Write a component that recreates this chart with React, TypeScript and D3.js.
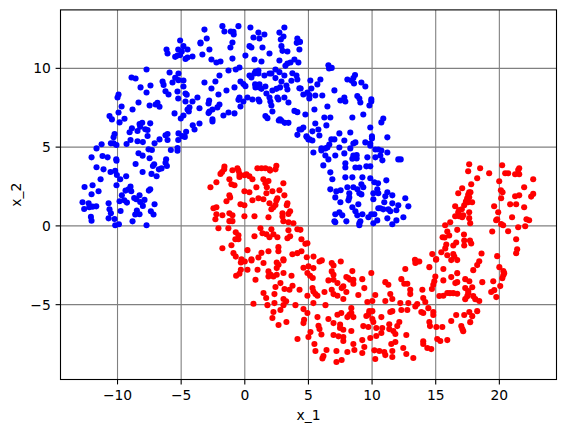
import React from "react";
import * as d3 from "d3";

const xTicks = [-10, -5, 0, 5, 10, 15, 20];
const yTicks = [-5, 0, 5, 10];
const xLabel = "x_1";
const yLabel = "x_2";
const xDomain = [-14.48, 24.49];
const yDomain = [-9.75, 13.71];

const classOne: number[][] = [
[-5.08,11.77],[-6.15,11.2],[-6.07,10.94],[-5.23,11.2],[-5.47,10.73],[-5.29,10.81],[-5.08,10.84],[-7.72,9.93],[-5.91,9.74],[-8.9,9.42],[-8.58,9.36],[-5.47,9.4],[-5.21,9.67],[-5.21,9.25],[-6.46,9.17],[-6.38,8.95],[-5.68,9.1],[-7.41,8.91],[-8.19,8.79],[-7.72,8.47],[-6.23,8.55],[-5.99,8.34],[-5.29,8.53],[-9.92,8.34],[-10,8.15],[-5.23,8.09],[-8.35,7.83],[-9.68,7.58],[-8.82,7.39],[-7.48,7.64],[-6.86,7.81],[-7.01,7.71],[-6.7,7.56],[-9.92,7.2],[-5.52,7.14],[-10.63,6.97],[-10.44,6.76],[-9.45,6.8],
[-9.84,6.57],[-8.87,6.19],[-8.22,6.3],[-8.06,6.55],[-7.43,6.51],[-8.27,6.47],[-8.43,6.02],[-9.05,5.94],[-7.82,6.13],[-7.64,6.09],[-7.64,5.71],[-10.23,5.83],[-10.31,5.62],[-6.07,5.83],[-6.23,5.75],[-5.21,5.87],[-6.7,5.49],[-6.07,5.45],[-5.23,5.45],[-8.98,5.45],[-8.43,5.37],[-8.01,5.32],[-7.09,5.24],[-9.29,5.2],[-10.52,5.24],[-10.31,5.24],[-10.08,5.13],[-11.25,5.18],[-11.65,4.92],[-7.56,4.86],[-7.3,4.82],[-5.81,4.82],[-5.29,4.77],[-5.29,4.94],[-8.35,4.61],[-8.03,4.46],[-12.04,4.35],[-11.18,4.44],[-10.78,4.35],[-10.1,4.23],[-10.08,4.14],[-7.48,4.29],[-8.58,3.93],[-6.18,4.23],[-6.23,4.01],[-7.12,3.91],[-7.22,3.8],[-11.65,3.72],[-11.1,3.59],[-6.12,3.8],[-6.54,3.65],[-6.75,3.59],[-10.55,3.42],[-10.18,3.49],[-8.03,3.42],[-7.33,3.3],[-6.93,3.15],[-10.05,3.23],[-9.32,3.15],[-9.79,2.96],[-11.33,2.96],[-10.08,2.58],[-12.59,2.47],[-11.96,2.58],[-8.98,2.49],[-9.13,2.32],[-9.37,2.24],[-8.92,2.2],[-11.49,2.2],[-12.04,2.01],[-9.66,1.94],[-7.43,2.32],[-7.54,2.24],[-8.27,1.94],[-8.69,1.77],[-8.53,1.69],[-7.88,1.65],[-12.75,1.5],[-10.7,1.43],[-9.84,1.56],[-9.47,1.62],[-9.26,1.48],[-8.22,1.52],[-12.27,1.43],[-12.22,1.18],[-11.96,1.22],[-11.67,1.24],[-12.62,1.07],[-10.63,1.05],[-8.01,1.27],[-7.09,1.37],[-9.76,0.95],[-10.52,0.8],[-8.48,0.97],[-8.61,0.72],[-8.27,0.74],[-7.38,0.93],[-7.17,0.72],[-12.09,0.57],[-12.04,0.33],[-10.7,0.48],[-10.23,0.44],[-8.82,0.29],[-10.18,0.04],[-9.89,0.1],[-7.72,0.04],
[-3.17,12.46],[-1.76,12.68],[-1.6,12.34],[-0.5,12.68],[0.44,12.59],[3.11,12.59],[-1.1,12.34],[-0.89,12.32],[-0.87,12.15],[1.07,12.27],[1.54,12.15],[2.72,12.27],[0.68,11.96],[1.15,11.89],[3.04,12.02],[2.83,11.83],[-2.99,11.89],[4.13,11.89],[4.08,11.62],[4.34,11.68],[-3.48,11.64],[-3.48,11.58],[-0.97,11.64],[-1.13,11.32],[0.37,11.41],[0.52,11.32],[1.39,11.32],[2.88,11.41],[2.96,11.11],[3.35,11.07],[-4.82,11.41],[-4.5,11.2],[-2.78,11.2],[-4.95,11.07],[-3.33,10.88],[1.94,10.94],[0.05,10.81],[4.29,11.2],[-4.11,10.75],[-4.5,10.69],[-4.66,10.6],[-0.97,10.62],[0.76,10.56],[-2.62,10.56],[-2.23,10.37],[-1.91,10.43],[1.31,10.43],[2.72,10.5],[3.9,10.56],[4.21,10.37],[3.59,10.37],[3.35,10.31],[3.19,10.16],[-0.42,10.05],[-0.71,9.93],[-1.28,9.86],[1.07,9.86],[0.84,9.8],[2.41,9.93],[2.72,9.76],[2.09,9.67],[4.06,9.55],[3.74,9.69],[-1.99,9.55],[1.54,9.55],[1.94,9.67],[0.37,9.55],[0.52,9.42],[1.07,9.67],[0.76,9.67],[2.41,9.38],[3.11,9.55],[-3.17,9.1],[-2.31,9.17],[-0.34,9.17],[-0.11,9],[0.05,8.87],[-4.82,9.23],[-4.82,8.85],[0.81,8.98],[0.84,8.79],[1.15,8.98],[1.15,8.79],[1.31,8.7],[1.62,8.85],[2.88,9.17],[3.66,9.21],[4.13,9.29],[3.27,8.91],[3.35,8.66],[4.29,8.74],[-2.62,8.72],[-0.81,8.79],[-1.44,8.59],[2.77,8.79],[2.49,8.7],[2.17,8.59],[1.7,8.4],[-2.07,8.34],[-4.66,8.4],[-4.56,8.32],[-3.72,8.15],[-0.42,8.15],[0.21,8.15],[0.6,8.02],[1.07,8.02],[1.15,7.9],[-0.5,8],[-0.11,7.9],[1.94,8.15],[2.01,7.9],[2.56,8.15],[3.11,8.15],[2.64,8.02],[3.43,7.83],[-4.66,7.9],[-4.11,7.9],[-2.8,7.96],[-2.85,7.77],[-1.99,7.71],[-2.15,7.52],[-0.34,7.58],[-3.56,7.47],[-4.35,7.52],[-4.5,7.39],[-4.4,7.26],[2.09,7.64],[2.17,7.26],[3.9,7.3],[4.13,7.22],[-2.54,7.39],[-2.78,7.26],[-2.85,7.16],[-1.28,7.2],[-0.81,7.14],[-1.68,7.01],[1.62,6.97],[1.78,6.84],[-2.54,6.76],[2.77,6.76],[-4.82,7.01],[-5.03,6.82],
[-4.09,6.39],[-3.56,6.5],[-3.95,6.12],[-2.54,6.63],[-4.61,5.97],[-4.92,5.7],[-4.71,5.65],[2.67,6.69],[2.88,6.67],[3.14,6.54],[3.43,6.54],[4.29,6.12],[4.13,5.78],[4.87,5.65],[5.08,5.49],
[6.57,10.2],[6.62,9.99],[6.83,10.03],[8.66,9.57],[8.53,9.38],[8.06,9.29],[8.4,9.21],[8.58,9.04],[9.16,9.1],[9.47,8.85],[5.94,9.29],[5.15,9.23],[5.7,8.98],[5.23,8.72],[4.39,8.72],[7.04,8.6],[4.92,8.47],[4.6,8.34],[5.07,8.3],[5.07,8.09],[5.54,8.28],[6.09,8.28],[7.51,7.96],[7.82,8.15],[7.9,7.9],[8.84,8.24],[9,8.09],[9.08,7.83],[9.94,8.03],[9.94,7.9],[9.79,7.64],[6.49,7.58],[5.47,7.39],[4.76,7.07],[9.31,7.07],[8.45,6.88],[6.25,6.88],[6.72,6.88],[10.88,6.82],[10.73,6.57],[5.54,6.5],[6.41,6.38],[9.86,6.25],[4.6,6.25],[4.44,6.12],[5.78,6.12],[5.31,6],[5.86,5.74],[7.43,5.87],[8.29,5.93],[11.2,5.62],[9.99,5.68],[9.99,5.55],[4.84,5.68],[5,5.49],[5.31,5.42],[6.8,5.49],[7.04,5.49],[7.82,5.42],[8.69,5.3],[8.53,5.23],[9.47,5.3],[9.86,5.23],[9.86,5.09],[6.64,5.17],[6.49,4.98],[7.43,4.98],[8.29,4.92],[6.02,4.92],[6.02,4.79],[6.33,4.92],[5.39,4.66],[10.26,4.85],[10.49,4.85],[10.73,4.79],[11.2,4.66],[7.82,4.6],[6.33,4.47],[6.57,4.22],[7.11,4.47],[10.26,4.35],[10.65,4.47],[10.81,4.16],[9.63,4.35],[8.53,4.47],[8.79,4.49],[8.45,4.26],[8.79,4.28],[12.06,4.22],[12.25,4.22],[6.17,3.84],[7.9,3.97],[7.9,3.71],[8.69,3.71],[9,3.71],[9.55,3.78],[9.86,3.78],
[6.72,3.4],[6.88,2.96],[7.9,3.08],[8.45,3.08],[9.24,3.08],[9.86,3.02],[10.18,2.77],[10.47,2.7],[11.12,2.89],[8.06,2.45],[8.53,2.45],[9.16,2.64],[9.31,2.45],[8.84,2.32],[6.72,2.32],[7.19,2.19],[7.53,2.26],[8.21,2.07],[9,2.07],[9.16,2],[10.1,2.07],[10.41,2.32],[10.49,2.07],[7.11,1.81],[8.21,1.81],[8.14,1.62],[7.51,1.5],[10.1,1.69],[11.2,2.13],[11.04,1.88],[11.59,1.94],[10.96,1.5],[12.61,1.75],[11.59,1.43],[12.06,1.31],[12.85,1.24],[8.92,1.37],[8.45,1.18],[10.49,1.12],[10.65,1.12],[10.88,1.05],[11.28,1.05],[11.43,0.93],[11.91,0.99],[8.69,0.93],[9.24,0.74],[7.43,0.86],[7.11,0.74],[7.66,0.67],[8.84,0.67],[9.94,0.74],[10.18,0.74],[9.71,0.55],[12.46,0.55],[11.2,0.48],[10.41,0.35],[11.91,0.35],[7.04,0.29],[7.11,0.23],[7.98,0.29],[9.08,0.29],[9,0.16],[9,0.04],[10.1,0.16],[11.59,0.1],
];

const classTwo: number[][] = [
[-1.6,3.76],[-1.62,3.59],[-1.91,3.3],[-1.78,3.42],[-0.97,3.53],[-0.58,3.66],[-0.5,3.51],[-0.42,3.3],[-0.42,3.11],[-0.03,3.21],[0.13,3.28],[0.36,3.15],[0.6,2.96],[0.99,3.66],[1.31,3.66],[1.62,3.66],[1.94,3.59],[1.99,3.51],[2.48,3.81],[2.41,3.59],[-1.21,2.96],[-2.23,2.77],[-2.7,2.45],[-1.05,2.64],[-0.81,2.58],[1.46,2.96],[1.86,2.85],[1.62,2.71],[1.73,2.45],[3.03,2.71],[0.91,2.45],[-0.03,2.2],[0.36,2.14],[1.7,2.07],[2.17,2.2],[2.72,2.26],[3.11,1.94],[-1.21,1.94],[-1.15,1.8],[-1.44,1.56],[0.6,1.63],[1.07,1.75],[1.46,1.69],[2.56,1.75],[2.48,1.61],[1.94,1.44],[2.41,1.33],[2.25,1.18],[2.09,1.06],[3.35,1.44],[3.3,1.31],[-0.34,1.37],[-0.03,1.31],[-2.46,1.12],[-2.23,1.18],[3.56,0.93],[3.43,0.76],[2.96,0.8],[2.96,0.59],[-2.23,0.74],[-1.76,0.68],[-1.21,0.8],[-0.97,0.68],[-0.03,0.61],[0.76,0.61],[1.86,0.55],[-2.31,0.42],[-1.21,0.3],[-0.97,0.3],[3.03,0.3],[3.43,0.23],[3.82,0.17],[-2.07,-0.15],[-1.29,-0.15],[1.23,-0.15],[2.09,-0.21],[3.43,-0.28],[4.13,-0.21],[4.37,-0.25],[-0.71,-0.4],[-0.5,-0.59],[1.39,-0.47],[1.7,-0.53],[1.94,-0.72],[2.25,-0.53],[2.56,-0.72],[0.76,-0.66],[3.56,-0.66],[3.35,-0.78],[4.45,-0.85],[-0.5,-0.85],[-0.74,-0.85],[4.92,-1.1],[4.76,-1.14],[-1.05,-1.23],[-1.76,-1.42],[2.64,-1.35],[2.64,-1.61],[0.21,-1.54],[1.86,-1.61],[1.31,-1.71],[-0.89,-1.73],[-0.71,-1.95],[3.74,-1.8],[4.13,-1.73],[4.45,-1.61],[1.07,-2.01],[4.87,-1.99],[3.03,-2.12],[-0.26,-2.12],[0.52,-2.12],[5.4,-1.95],
[-0.31,-2.32],[0,-2.26],[0.53,-2.19],[1.47,-2.36],[2.51,-2.32],[2.65,-2.47],[3.04,-2.19],[4.61,-2.66],[5,-2.57],[5.39,-2.68],[5.87,-2.26],[6.05,-2.19],[6.83,-2.36],[6.97,-2.51],[7.54,-2.26],[-0.31,-2.78],[0.21,-2.78],[1,-2.78],[2.51,-2.68],[1.86,-2.89],[3.04,-2.99],[-0.42,-3.04],[-0.68,-3.16],[1.86,-3.21],[2.04,-3.1],[2.25,-3.21],[2.51,-3.1],[3.67,-3.16],[4.92,-2.99],[5.13,-3.16],[5.34,-3.31],[6.83,-2.89],[6.97,-3.1],[6.97,-3.42],[6.57,-3.46],[0.84,-3.42],[2.8,-3.63],[2.41,-3.88],[3.75,-3.8],[3.51,-4.05],[3.12,-4.01],[4.3,-4.05],[5.32,-3.95],[5.39,-4.16],[5.55,-4.33],[5.71,-4.43],[6.26,-4.2],[6.83,-4.05],[6.97,-4.33],[7.28,-4.43],[7.28,-3.63],[1.47,-4.26],[2.33,-4.33],[1.68,-4.58],[4.92,-4.43],[3.04,-4.64],[3.25,-4.79],[0.68,-4.94],[1.78,-5.03],[2.33,-4.9],[3.04,-5.03],[3.98,-5.03],[5.39,-4.9],[6.34,-5.03],[4.61,-5.28],[4.92,-5.53],[2.25,-5.47],[2.8,-5.34],[2.17,-5.85],[3.27,-6.1],[2.65,-6.29],[4.66,-5.96],[4.61,-6.17],[5.71,-5.79],[6.57,-5.91],[6.97,-6.17],[7.28,-5.64],[7.49,-6.27],[5.79,-6.34],[5.87,-6.55],[6.02,-6.89],[5.16,-6.74],[5,-7.05],[4.14,-7.18],[6.97,-6.93],[7.36,-7.01],[5.47,-7.5],[5.55,-7.94],[6.42,-7.88],[6.18,-8.26],[6.1,-8.41],[7.2,-7.94],[7.2,-8.64],
[13.55,-2.26],[13.71,-2.26],[13.4,-2.36],[15.02,-2.15],[12.61,-2.74],[14.5,-2.62],[15.6,-2.74],[8.45,-2.87],[9.94,-2.99],[14.97,-3.21],[7.98,-3.25],[8.13,-3.31],[8.27,-3.42],[8.53,-3.42],[8.53,-3.67],[9.23,-3.38],[11.04,-3.57],[11.28,-3.74],[12.3,-3.38],[12.53,-3.67],[12.77,-3.67],[14.89,-3.52],[14.81,-3.74],[15.6,-3.46],[9.39,-3.95],[7.74,-3.84],[7.61,-3.95],[7.98,-4.2],[8.92,-4.39],[13,-4.05],[13,-4.33],[13.95,-4.05],[14.7,-4.01],[14.02,-4.58],[11.43,-4.33],[10.25,-4.39],[11.59,-4.64],[15.28,-4.45],[15.6,-4.43],[15.91,-4.26],[7.74,-4.64],[9.63,-4.83],[10.02,-4.77],[11.04,-4.77],[12.22,-4.9],[12.85,-4.9],[13.55,-4.96],[13.4,-5.11],[14.18,-4.83],[14.42,-5.22],[8.37,-5.22],[7.58,-5.53],[8.06,-5.79],[8.21,-5.64],[8.37,-5.53],[8.53,-5.79],[9.78,-5.41],[10.02,-5.41],[9.55,-5.72],[9.71,-5.64],[10.02,-5.91],[10.1,-6.1],[10.73,-5.79],[11.43,-5.47],[11.59,-5.41],[12.3,-5.34],[12.77,-5.34],[13.87,-5.47],[14.02,-5.53],[14.81,-5.47],[14.81,-5.66],[14.5,-6.1],[14.55,-6.36],[12.14,-6.1],[11.98,-6.36],[11.35,-6.25],[11.35,-6.55],[11.67,-6.67],[11.83,-6.86],[15.05,-6.42],[15.52,-6.42],[9.31,-6.36],[9.71,-6.42],[10.33,-6.48],[10.8,-6.48],[7.48,-6.48],[7.74,-6.59],[8.37,-6.67],[10.73,-6.8],[10.33,-6.99],[12.69,-6.93],[9.86,-7.12],[9.23,-7.25],[7.74,-7.05],[7.74,-7.31],[9.39,-7.69],[8.53,-7.5],[8.61,-7.88],[8.06,-8],[9.23,-8.07],[14.02,-7.33],[14.02,-7.5],[14.34,-7.75],[14.65,-7.82],[15.12,-7.18],[15.36,-7.31],[15.91,-7.25],[12.45,-7.75],[11.51,-7.5],[11.83,-7.37],[10.18,-7.9],[10.57,-7.94],[10.96,-8],[11.04,-8.2],[11.59,-7.94],[11.59,-8.32],[12.69,-8.13],[10.25,-8.45],[13.24,-8.39],[7.61,-8.51],
[15.91,-0.36],[16.06,-0.61],[16.69,-0.25],[17.22,-0.55],[15.54,-0.72],[15.7,-0.74],[17.24,-0.93],[17.24,-1.24],[17.69,-0.93],[17.79,-1.12],[16.61,-1.05],[16.38,-1.24],[15.83,-1.18],[15.75,-1.43],[15.44,-1.67],[14.73,-1.79],[16.38,-1.79],[15.91,-1.86],[15.04,-2.11],[16.46,-1.94],[16.69,-2.17],[16.22,-2.17],[18.6,-1.75],[19.83,-1.92],[18.42,-2.24],[18.26,-2.49],[17.95,-2.81],[19.44,-0.36],[20,-2.62],[13.37,-2.15],[16.69,-3],[16.22,-3.25],[17.32,-3.38],[17.64,-3.51],[16.69,-3.57],[16.54,-3.63],[18.66,-3.57],[19.52,-3.51],[17.32,-3.95],[17.87,-3.89],[17.56,-4.14],[17.56,-4.27],[17.48,-4.46],[17.32,-4.65],[17.95,-4.46],[18.11,-4.65],[18.42,-4.77],[20.07,-3.82],[19.6,-4.08],[19.36,-4.2],[19.76,-4.52],[20.31,-2.87],[20.38,-3],[20.31,-3.13],[20.23,-3.32],[16.38,-4.27],[16.69,-4.31],[16.12,-4.27],[18.26,-5.41],[17.64,-5.47],[17.24,-5.66],[16.61,-5.66],[17.87,-5.73],[17.71,-6.11],[16.22,-6.04],[17.01,-6.36],[17.09,-6.55],[17.16,-6.68],
[17.63,3.91],[17.55,3.47],[18.49,3.66],[19.2,3.34],[20.22,3.85],[21.56,3.66],[21.48,3.55],[21.24,3.28],[21.56,3.28],[20.46,3.34],[20.69,3.34],[18.26,3.02],[19.99,2.83],[22.66,2.96],[17.79,2.64],[17.08,2.39],[16.77,2.07],[17.63,2.13],[17.73,2.13],[17.55,1.97],[17.63,1.82],[20.12,2.26],[20.25,2.13],[21.95,2.45],[20.14,1.75],[21.24,1.88],[21.56,1.94],[22.5,1.86],[22.66,2.03],[17.47,1.75],[17.37,1.54],[17.55,1.5],[17.86,1.5],[20.85,1.37],[21.32,1.37],[19.59,1.25],[21.95,1.18],[16.53,1.25],[17.24,1.31],[17.05,1.06],[16.84,1.01],[17.63,0.87],[19.91,0.87],[16.77,0.87],[16.53,0.61],[16.84,0.61],[17.16,0.68],[17.08,0.55],[21,0.55],[17.63,0.49],[22.13,0.42],[22.34,0.36],[17.71,0.17],[16.14,0.23],[15.74,0.04],[19.83,0.42],[19.75,0.36],[20.14,0.11],[20.3,0.04],[22.03,-0.02],[21.48,-0.09],[20.69,-0.34],[21.32,-0.85],[21.4,-1.48],[21.32,-1.74],
];

const W = 565;
const H = 432;
const L = 60.5;
const R = 556.5;
const T = 9.9;
const B = 379.5;
const font = "'DejaVu Sans', sans-serif";
const fmt = (v: number) => String(v).replace("-", "\u2212");

export default function App() {
  const x = d3.scaleLinear().domain(xDomain).range([L, R]);
  const y = d3.scaleLinear().domain(yDomain).range([B, T]);
  return (
    <svg width={W} height={H} style={{ position: "absolute", left: 0, top: 0, background: "#fff" }}>
      {xTicks.map((t) => (
        <line key={"gx" + t} x1={x(t)} x2={x(t)} y1={T} y2={B} stroke="#808080" strokeWidth={1.1} />
      ))}
      {yTicks.map((t) => (
        <line key={"gy" + t} x1={L} x2={R} y1={y(t)} y2={y(t)} stroke="#808080" strokeWidth={1.1} />
      ))}
      {classOne.map((d, i) => (
        <circle key={"b" + i} cx={x(d[0])} cy={y(d[1])} r={3.05} fill="#0000ff" />
      ))}
      {classTwo.map((d, i) => (
        <circle key={"r" + i} cx={x(d[0])} cy={y(d[1])} r={3.05} fill="#ff0000" />
      ))}
      <rect x={L} y={T} width={R - L} height={B - T} fill="none" stroke="#000" strokeWidth={1.1} />
      {xTicks.map((t) => (
        <g key={"tx" + t}>
          <line x1={x(t)} x2={x(t)} y1={B} y2={B + 4.9} stroke="#000" strokeWidth={1.1} />
          <text x={x(t)} y={B + 20.6} textAnchor="middle" fontFamily={font} fontSize={13.89} fill="#000">{fmt(t)}</text>
        </g>
      ))}
      {yTicks.map((t) => (
        <g key={"ty" + t}>
          <line x1={L - 4.9} x2={L} y1={y(t)} y2={y(t)} stroke="#000" strokeWidth={1.1} />
          <text x={L - 9.7} y={y(t) + 5.1} textAnchor="end" fontFamily={font} fontSize={13.89} fill="#000">{fmt(t)}</text>
        </g>
      ))}
      <text x={(L + R) / 2} y={420} textAnchor="middle" fontFamily={font} fontSize={13.89} fill="#000">{xLabel}</text>
      <text transform={`translate(21,${(T + B) / 2}) rotate(-90)`} textAnchor="middle" fontFamily={font} fontSize={13.89} fill="#000">{yLabel}</text>
    </svg>
  );
}
